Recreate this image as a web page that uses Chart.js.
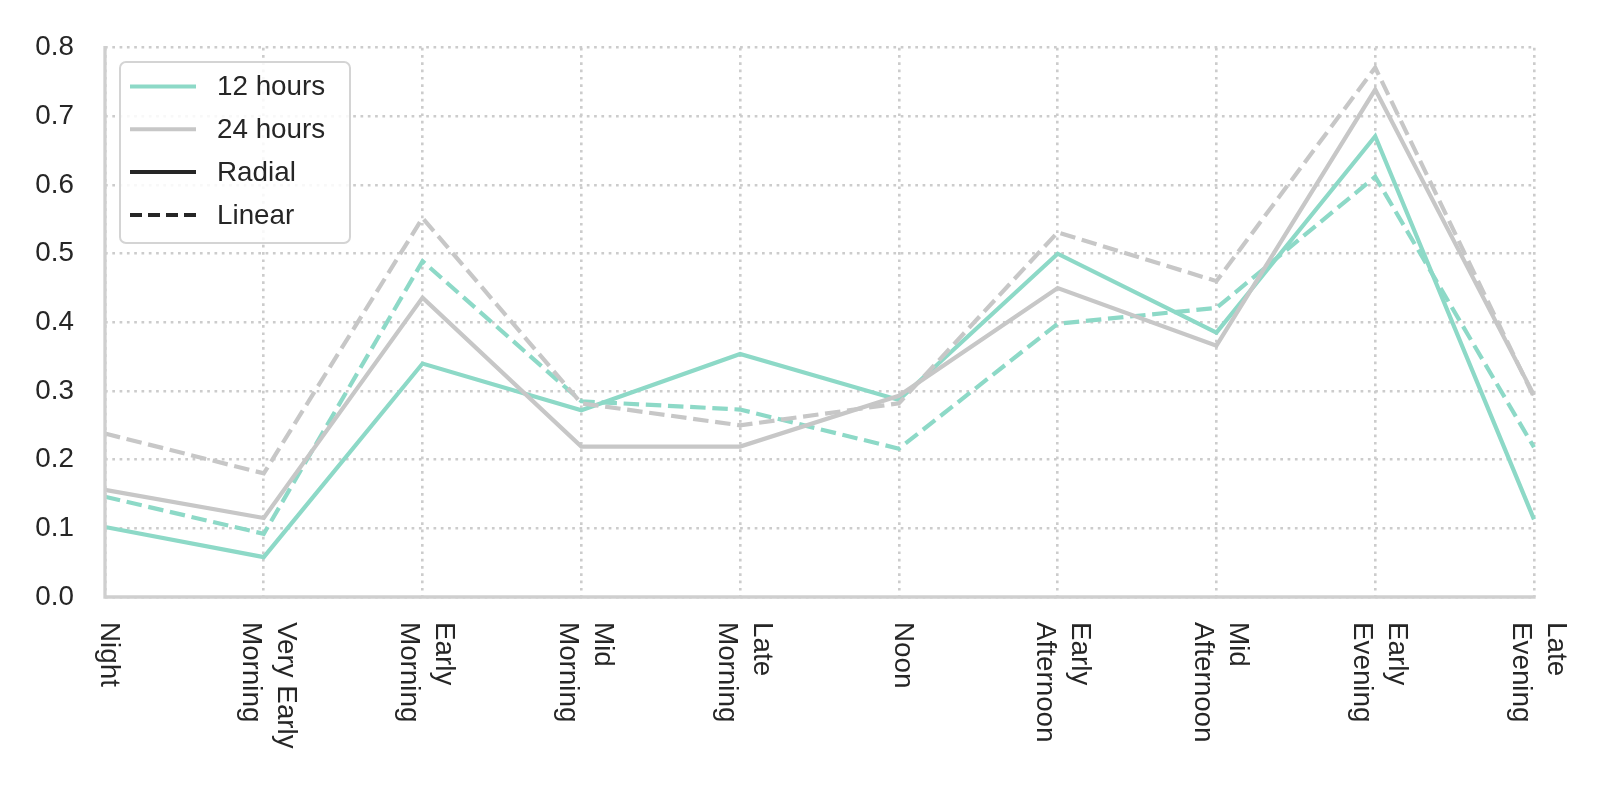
<!DOCTYPE html>
<html>
<head>
<meta charset="utf-8">
<script src="https://cdn.jsdelivr.net/npm/chart.js@4"></script>
<style>
  html, body { margin: 0; padding: 0; background: #ffffff; }
  #wrap { width: 1600px; height: 800px; }
</style>
</head>
<body>
<div id="wrap"><canvas id="c" width="1600" height="800"></canvas></div>
<script>
/* time-of-day scores, 12h vs 24h encodings */

var categories = [
  ['Night'], ['Very Early', 'Morning'], ['Early', 'Morning'], ['Mid', 'Morning'],
  ['Late', 'Morning'], ['Noon'], ['Early', 'Afternoon'], ['Mid', 'Afternoon'],
  ['Early', 'Evening'], ['Late', 'Evening']
];

var radial12 = [0.102, 0.058, 0.340, 0.272, 0.354, 0.287, 0.500, 0.385, 0.671, 0.113];
var linear12 = [0.146, 0.092, 0.489, 0.285, 0.273, 0.216, 0.398, 0.421, 0.612, 0.218];
var radial24 = [0.156, 0.115, 0.436, 0.219, 0.219, 0.293, 0.450, 0.366, 0.739, 0.294];
var linear24 = [0.238, 0.180, 0.552, 0.282, 0.250, 0.282, 0.531, 0.460, 0.771, 0.291];

var yTicks = [0.0, 0.1, 0.2, 0.3, 0.4, 0.5, 0.6, 0.7, 0.8];
var legendLabels = ['12 hours', '24 hours', 'Radial', 'Linear'];

var TEAL = '#8dd9c7';
var GREY = '#c7c7c7';
var INK = '#262626';
var FONT = "'Liberation Sans', Arial, sans-serif";
var FSIZE = 27.8;
var DASH = [15.5, 6.7];
var GRID_DASH = [2.7, 4.6];

function _ds(label, data, color, dashed) {
  return {
    label: label, data: data, borderColor: color, backgroundColor: color,
    borderWidth: 4.2, pointRadius: 0, fill: false, tension: 0,
    borderDash: dashed ? DASH : [], borderJoinStyle: 'miter', borderCapStyle: 'butt'
  };
}

/* rotated (top-to-bottom) category labels */
var xLabelPlugin = {
  id: 'xLabels',
  afterDraw: function(chart) {
    var ctx = chart.ctx, xs = chart.scales.x;
    ctx.save();
    ctx.font = FSIZE + 'px ' + FONT;
    ctx.fillStyle = INK;
    ctx.textAlign = 'left';
    ctx.textBaseline = 'middle';
    var lh = 35;
    for (var i = 0; i < categories.length; i++) {
      var lines = categories[i];
      var px = xs.getPixelForValue(i) + 4;
      ctx.save();
      ctx.translate(px, 622);
      ctx.rotate(Math.PI / 2);
      for (var j = 0; j < lines.length; j++) {
        ctx.fillText(lines[j], 0, (j - (lines.length - 1) / 2) * lh);
      }
      ctx.restore();
    }
    ctx.restore();
  }
};

/* left and bottom spines */
var spinePlugin = {
  id: 'spines',
  afterDatasetsDraw: function(chart) {
    var a = chart.chartArea, ctx = chart.ctx;
    ctx.save();
    ctx.strokeStyle = '#cfcfcf';
    ctx.lineWidth = 3.3;
    ctx.setLineDash([]);
    ctx.lineCap = 'square';
    ctx.beginPath();
    ctx.moveTo(a.left, a.top);
    ctx.lineTo(a.left, a.bottom);
    ctx.lineTo(a.right, a.bottom);
    ctx.stroke();
    ctx.restore();
  }
};

/* boxed legend in the upper-left corner */
var legendPlugin = {
  id: 'boxLegend',
  afterDraw: function(chart) {
    var ctx = chart.ctx;
    var bx = 120, by = 62, bw = 230, bh = 181, r = 6;
    var styles = [
      {color: TEAL, dash: []}, {color: GREY, dash: []},
      {color: INK, dash: []}, {color: INK, dash: [12, 6]}
    ];
    ctx.save();
    ctx.beginPath();
    ctx.moveTo(bx + r, by);
    ctx.arcTo(bx + bw, by, bx + bw, by + bh, r);
    ctx.arcTo(bx + bw, by + bh, bx, by + bh, r);
    ctx.arcTo(bx, by + bh, bx, by, r);
    ctx.arcTo(bx, by, bx + bw, by, r);
    ctx.closePath();
    ctx.fillStyle = 'rgba(255,255,255,0.85)';
    ctx.fill();
    ctx.strokeStyle = '#d4d4d4';
    ctx.lineWidth = 2;
    ctx.stroke();

    ctx.font = FSIZE + 'px ' + FONT;
    ctx.textAlign = 'left';
    ctx.textBaseline = 'middle';
    for (var i = 0; i < legendLabels.length; i++) {
      var cy = 86.5 + i * 42.8;
      ctx.strokeStyle = styles[i].color;
      ctx.lineWidth = 4;
      ctx.setLineDash(styles[i].dash);
      ctx.beginPath();
      ctx.moveTo(130, cy);
      ctx.lineTo(196, cy);
      ctx.stroke();
      ctx.setLineDash([]);
      ctx.fillStyle = INK;
      ctx.fillText(legendLabels[i], 217, cy + 1);
    }
    ctx.restore();
  }
};

var chart = new Chart(document.getElementById('c'), {
  type: 'line',
  data: {
    labels: categories.map(function(c) { return c.join(' '); }),
    datasets: [
      _ds('24 hours Linear', linear24, GREY, true),
      _ds('24 hours Radial', radial24, GREY, false),
      _ds('12 hours Linear', linear12, TEAL, true),
      _ds('12 hours Radial', radial12, TEAL, false)
    ]
  },
  options: {
    responsive: false, animation: false,
    layout: {padding: {left: 0, top: 47, right: 66, bottom: 203}},
    plugins: {legend: {display: false}, tooltip: {enabled: false}},
    scales: {
      x: {
        type: 'category', offset: false,
        grid: {color: '#cccccc', lineWidth: 2.6, drawTicks: false, borderDash: GRID_DASH},
        border: {display: false, dash: GRID_DASH},
        ticks: {display: false},
        afterFit: function(s) { s.height = 0; }
      },
      y: {
        min: 0, max: 0.8,
        afterBuildTicks: function(s) { s.ticks = yTicks.map(function(v) { return {value: v}; }); },
        grid: {color: '#cccccc', lineWidth: 2.6, drawTicks: false, borderDash: GRID_DASH},
        border: {display: false, dash: GRID_DASH},
        ticks: {
          color: INK, padding: 31,
          font: {family: FONT, size: FSIZE},
          callback: function(v) { return Number(v).toFixed(1); }
        },
        afterFit: function(s) { s.width = 105; }
      }
    }
  },
  plugins: [xLabelPlugin, spinePlugin, legendPlugin]
});
</script>
</body>
</html>
